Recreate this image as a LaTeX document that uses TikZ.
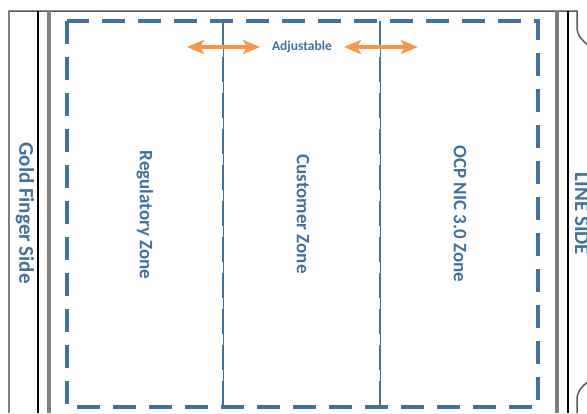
\documentclass[tikz,border=0pt]{standalone}
\usepackage{fontspec}
\setmainfont{Carlito}
\usetikzlibrary{arrows.meta}
\definecolor{zoneblue}{HTML}{41719C}
\definecolor{adjorange}{HTML}{F79646}
\definecolor{railgray}{HTML}{808080}

\begin{document}
\begin{tikzpicture}[
  x=1pt, y=-1pt,
  lbl/.style={text=zoneblue, font=\bfseries\fontsize{19}{21}\selectfont, rotate=-90, inner sep=0pt},
  sidelbl/.style={lbl, font=\bfseries\fontsize{21}{23}\selectfont},
  zonebox/.style={draw=zoneblue, line width=3.4pt, dash pattern=on 23pt off 13pt},
  divider/.style={draw=zoneblue, line width=2.8pt, dash pattern=on 25pt off 11pt},
  thindiv/.style={draw=zoneblue, line width=0.6pt},
  adj/.style={{Stealth[length=17pt,width=14pt,inset=4pt]}-{Stealth[length=17pt,width=14pt,inset=4pt]}, draw=adjorange, line width=3.2pt},
  rail/.style={draw=railgray, line width=3.4pt},
  edgeline/.style={draw=black!65, line width=1.5pt}
]
  \useasboundingbox (0,0) rectangle (587,413);

  % card outline and rails
  \draw[edgeline] (8,11) -- (577,11) -- (577,26) .. controls (577,36) and (582,40) .. (588,45);
  \draw[edgeline] (577,413) -- (577,400) .. controls (577,391) and (582,386) .. (588,382);
  \draw[draw=railgray, line width=1.5pt] (9,11) -- (9,413);
  \draw[draw=black, line width=1.6pt] (38,11) -- (38,413);
  \draw[rail] (49,11) -- (49,413);
  \draw[rail] (557,11) -- (557,413);
  \draw[draw=black, line width=1.6pt] (568,11) -- (568,413);

  % zones
  \draw[zonebox] (67,21) rectangle (538,407);
  \foreach \x in {223,380} {
    \draw[thindiv] (\x,21) -- (\x,407);
    \draw[divider] (\x,21) -- (\x,407);
  }

  % labels
  \node[sidelbl] (gold) at (25,213) {Gold Finger Side};
  \node[lbl] (regzone) at (145,215) {Regulatory Zone};
  \node[lbl] (custzone) at (303,214) {Customer Zone};
  \node[lbl] (ocpzone) at (460,214) {OCP NIC 3.0 Zone};
  \node[sidelbl] (lineside) at (582,214) {LINE SIDE};
  \node[text=zoneblue, font=\bfseries\fontsize{13.5}{15}\selectfont, inner sep=0pt] (adjust) at (302,47) {Adjustable};

  % adjustable arrows
  \coordinate (a1) at (187,47);
  \coordinate (a2) at (260,47);
  \coordinate (b1) at (344,47);
  \coordinate (b2) at (418,47);
  \draw[adj] (a1) -- (a2);
  \draw[adj] (b1) -- (b2);
\end{tikzpicture}
\end{document}
